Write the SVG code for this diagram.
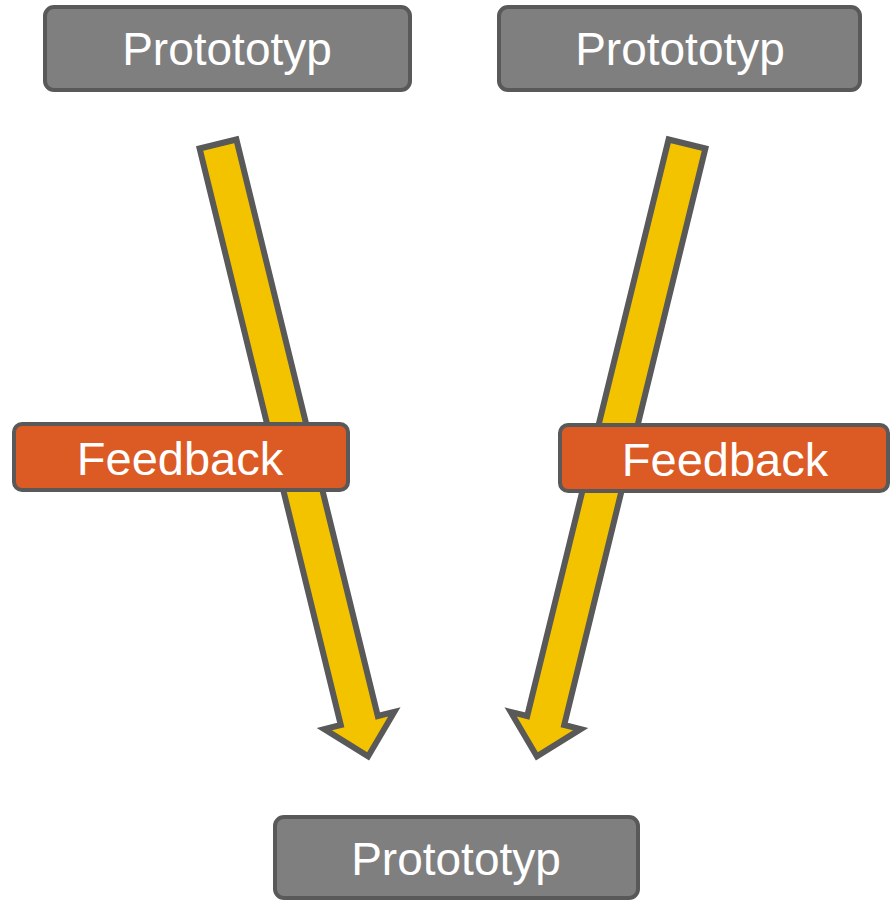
<svg xmlns="http://www.w3.org/2000/svg" width="890" height="900" viewBox="0 0 890 900">
<style>
.proto rect{fill:#7F7F7F;stroke:#595959;stroke-width:4}
.fb rect{fill:#DC5A24;stroke:#595959;stroke-width:4}
text{font-family:"Liberation Sans",Arial,sans-serif;fill:#FFFFFF;text-anchor:middle}
.proto text{font-size:46px}
.fb text{font-size:47px}
.arrow{fill:#F4C300;stroke:#595959;stroke-width:6;stroke-linejoin:miter}
</style>
<rect width="890" height="900" fill="#FFFFFF"/>
<g id="connectors">
<polygon class="arrow" points="199.6,148.5 236.4,139.5 377.8,716 394.3,711.9 368.1,756.4 324.3,729.1 340.8,725"/>
<polygon class="arrow" points="705.4,148.5 668.6,139.5 527.2,716 510.7,711.9 536.9,756.4 580.7,729.1 564.2,725"/>
</g>
<g id="proto-top-left" class="proto">
<rect x="45" y="7" width="365" height="83" rx="9"/>
<text x="227" y="65">Protototyp</text>
</g>
<g id="proto-top-right" class="proto">
<rect x="499" y="7" width="361" height="83" rx="9"/>
<text x="680" y="65">Protototyp</text>
</g>
<g id="proto-bottom" class="proto">
<rect x="275" y="817" width="363" height="81" rx="9"/>
<text x="456" y="875">Protototyp</text>
</g>
<g id="feedback-left" class="fb">
<rect x="14" y="424" width="334" height="66" rx="8"/>
<text x="180" y="475">Feedback</text>
</g>
<g id="feedback-right" class="fb">
<rect x="560" y="425" width="328" height="66" rx="8"/>
<text x="725" y="476">Feedback</text>
</g>
</svg>
